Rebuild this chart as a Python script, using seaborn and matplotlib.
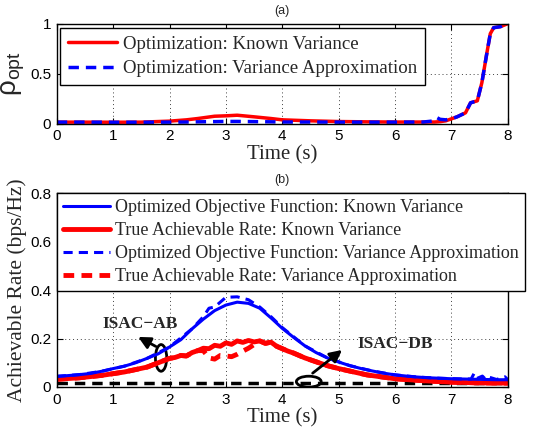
import matplotlib
matplotlib.use("Agg")
import matplotlib.pyplot as plt
from matplotlib.patches import Ellipse
import pandas as pd
import seaborn as sns

# ---- data ----
# (a) rho_opt vs time
t_rho = [0, 0.5, 1, 1.5, 2, 2.3, 2.5, 2.8, 3.0, 3.2, 3.5, 3.8, 4.0, 4.5, 5, 5.5, 6, 6.5,
         6.7, 6.75, 6.8, 6.9, 7.0, 7.1, 7.25, 7.34, 7.46, 7.54, 7.63, 7.69, 7.75, 7.87, 8.0]
rho_known = [0.017, 0.017, 0.016, 0.017, 0.027, 0.04, 0.053, 0.076, 0.08, 0.086, 0.07, 0.053,
             0.04, 0.03, 0.023, 0.02, 0.018, 0.018, 0.018, 0.02, 0.022, 0.03, 0.05, 0.07, 0.11,
             0.21, 0.23, 0.41, 0.71, 0.9, 0.96, 0.97, 1.0]
rho_approx = [0.017, 0.017, 0.016, 0.016, 0.017, 0.018, 0.02, 0.022, 0.024, 0.024, 0.022, 0.02,
              0.018, 0.018, 0.017, 0.017, 0.017, 0.018, 0.03, 0.06, 0.045, 0.04, 0.05, 0.07, 0.11,
              0.21, 0.23, 0.41, 0.71, 0.9, 0.96, 0.97, 1.0]

# (b) achievable rate vs time
t_obj = [0.0, 0.2, 0.4, 0.6, 0.8, 1.0, 1.2, 1.4, 1.6, 1.8, 2.0, 2.2, 2.4, 2.6, 2.8, 3.0, 3.2,
         3.4, 3.6, 3.8, 4.0, 4.2, 4.4, 4.6, 4.8, 5.0, 5.2, 5.4, 5.6, 5.8, 6.0, 6.2, 6.4, 6.6,
         6.8, 7.0, 7.2, 7.4, 7.6, 7.8, 8.0]
obj_known = [0.044, 0.047, 0.051, 0.056, 0.065, 0.076, 0.086, 0.100, 0.118, 0.137, 0.165, 0.195,
             0.240, 0.280, 0.315, 0.338, 0.350, 0.345, 0.325, 0.285, 0.242, 0.205, 0.170, 0.142,
             0.120, 0.103, 0.088, 0.076, 0.066, 0.057, 0.050, 0.045, 0.041, 0.038, 0.036, 0.034,
             0.033, 0.032, 0.031, 0.030, 0.030]

t_obj_apx = [0, 0.4, 0.8, 1.2, 1.6, 2.0, 2.4, 2.6, 2.7, 2.8, 3.0, 3.2, 3.4, 3.5, 3.6, 3.8, 4.0,
             4.4, 4.8, 5.2, 5.6, 6.0, 6.4, 6.8, 7.2, 7.35, 7.4, 7.45, 7.55, 7.6, 7.65, 7.8, 7.95, 8.0]
obj_approx = [0.044, 0.051, 0.065, 0.086, 0.118, 0.165, 0.24, 0.29, 0.325, 0.33, 0.37, 0.372,
              0.36, 0.345, 0.33, 0.29, 0.245, 0.17, 0.12, 0.088, 0.066, 0.05, 0.041, 0.036,
              0.033, 0.033, 0.055, 0.035, 0.045, 0.033, 0.042, 0.031, 0.042, 0.03]

t_true = [0.0, 0.4, 0.8, 1.2, 1.6, 2.0, 2.1, 2.2, 2.3, 2.4, 2.5, 2.6, 2.7, 2.8, 2.9, 3.0, 3.1,
          3.2, 3.3, 3.4, 3.5, 3.6, 3.7, 3.8, 3.9, 4.0, 4.1, 4.2, 4.3, 4.4, 4.5, 4.8, 5.0, 5.5,
          6.0, 6.5, 7.0, 7.5, 8.0]
true_known = [0.032, 0.038, 0.048, 0.062, 0.082, 0.118, 0.122, 0.13, 0.128, 0.142, 0.15, 0.16,
              0.158, 0.172, 0.168, 0.182, 0.176, 0.19, 0.184, 0.192, 0.186, 0.19, 0.18, 0.185,
              0.168, 0.158, 0.148, 0.14, 0.13, 0.12, 0.112, 0.088, 0.076, 0.05, 0.034, 0.026,
              0.02, 0.017, 0.016]
true_approx = [0.032, 0.038, 0.048, 0.062, 0.082, 0.118, 0.122, 0.13, 0.128, 0.142, 0.15, 0.15,
               0.12, 0.115, 0.13, 0.128, 0.125, 0.135, 0.148, 0.16, 0.175, 0.19, 0.18, 0.185,
               0.168, 0.158, 0.148, 0.14, 0.13, 0.12, 0.112, 0.088, 0.076, 0.05, 0.034, 0.026,
               0.02, 0.017, 0.016]

t_db = [0, 8]
rate_db = [0.018, 0.018]

sns.set_style("ticks")
plt.rcParams['font.family'] = ['Liberation Sans', 'DejaVu Sans']
plt.rcParams['mathtext.fontset'] = 'custom'
plt.rcParams['mathtext.rm'] = 'Liberation Sans'
serif = ['Liberation Serif', 'DejaVu Serif']

fig = plt.figure(figsize=(5.46, 4.30), dpi=100)
ax1 = fig.add_axes([0.104, 0.712, 0.826, 0.233])
ax2 = fig.add_axes([0.104, 0.100, 0.826, 0.451])

def style_axes(ax):
    ax.set_xlim(0, 8)
    ax.set_xticks(range(9))
    ax.tick_params(direction='in', top=True, right=True, labelsize=11, length=4, width=0.8,
                   colors='black', pad=4)
    ax.grid(True, linestyle=(0, (1, 3)), color='0.25', linewidth=0.7)
    ax.set_axisbelow(True)
    for sp in ax.spines.values():
        sp.set_linewidth(1.0)
        sp.set_color('black')

# ---- (a) ----
sns.lineplot(x=t_rho, y=rho_known, ax=ax1, color='red', linewidth=2.5,
             label='Optimization: Known Variance')
sns.lineplot(x=t_rho, y=rho_approx, ax=ax1, color='blue', linewidth=2.5, dashes=False,
             label='Optimization: Variance Approximation')
ax1.lines[1].set_linestyle((0, (3, 2)))
style_axes(ax1)
ax1.set_ylim(0, 1)
ax1.set_yticks([0, 0.5, 1])
ax1.set_yticklabels(['0', '0.5', '1'])
ax1.set_xlabel('Time (s)', family=serif, fontsize=15, labelpad=1)
ax1.set_ylabel('$\\mathrm{\u03c1}_{\\mathrm{opt}}$', fontsize=20, labelpad=2)
ax1.set_title('(a)', fontsize=9, pad=7)
leg1 = ax1.legend(loc='upper left', bbox_to_anchor=(0.007, 0.96), borderaxespad=0,
                  prop={'family': serif, 'size': 13.6}, frameon=True, fancybox=False,
                  framealpha=1, edgecolor='black', handlelength=2.6, handletextpad=0.3,
                  borderpad=0.42, labelspacing=0.38)
leg1.get_frame().set_linewidth(1.0)

# ---- (b) ----
sns.lineplot(x=t_db, y=rate_db, ax=ax2, color='black', linewidth=2.5)
ax2.lines[0].set_linestyle((0, (3, 2)))
sns.lineplot(x=t_true, y=true_approx, ax=ax2, color='red', linewidth=3.5,
             label='True Achievable Rate: Variance Approximation')
ax2.lines[1].set_linestyle((0, (2.2, 1.5)))
sns.lineplot(x=t_true, y=true_known, ax=ax2, color='red', linewidth=3.5,
             label='True Achievable Rate: Known Variance')
sns.lineplot(x=t_obj_apx, y=obj_approx, ax=ax2, color='blue', linewidth=2.2,
             label='Optimized Objective Function: Variance Approximation')
ax2.lines[3].set_linestyle((0, (3, 2)))
sns.lineplot(x=t_obj, y=obj_known, ax=ax2, color='blue', linewidth=2.2,
             label='Optimized Objective Function: Known Variance')
style_axes(ax2)
ax2.set_ylim(0, 0.8)
ax2.set_yticks([0, 0.2, 0.4, 0.6, 0.8])
ax2.set_yticklabels(['0', '0.2', '0.4', '0.6', '0.8'])
ax2.set_xlabel('Time (s)', family=serif, fontsize=15, labelpad=1)
ax2.set_ylabel('Achievable Rate (bps/Hz)', family=serif, fontsize=15.5, labelpad=2)
ax2.set_title('(b)', fontsize=9, pad=7)

handles, labels = ax2.get_legend_handles_labels()
order = [3, 1, 2, 0]
leg2 = ax2.legend([handles[i] for i in order], [labels[i] for i in order],
                  loc='upper left', bbox_to_anchor=(0, 1), borderaxespad=0,
                  prop={'family': serif, 'size': 13}, frameon=True, fancybox=False,
                  framealpha=1, edgecolor='black', handlelength=2.6, handletextpad=0.3,
                  borderpad=0.33, labelspacing=0.34)
leg2.get_frame().set_linewidth(1.0)

# annotations
ax2.add_patch(Ellipse((1.85, 0.12), 0.2, 0.11, fill=False, edgecolor='black', linewidth=2))
ax2.annotate('', xy=(1.4, 0.212), xytext=(1.8, 0.162),
             arrowprops=dict(arrowstyle='-|>', color='black', lw=2, mutation_scale=18))
ax2.text(1.47, 0.258, 'ISAC\u2212AB', family=serif, fontsize=12.5, fontweight='bold',
         ha='center', va='center')
ax2.add_patch(Ellipse((4.47, 0.022), 0.44, 0.045, fill=False, edgecolor='black', linewidth=2))
ax2.annotate('', xy=(5.1, 0.16), xytext=(4.5, 0.05),
             arrowprops=dict(arrowstyle='-|>', color='black', lw=2, mutation_scale=18))
ax2.text(6.0, 0.176, 'ISAC\u2212DB', family=serif, fontsize=12.5, fontweight='bold',
         ha='center', va='center')

fig.savefig('out.png', dpi=100)
